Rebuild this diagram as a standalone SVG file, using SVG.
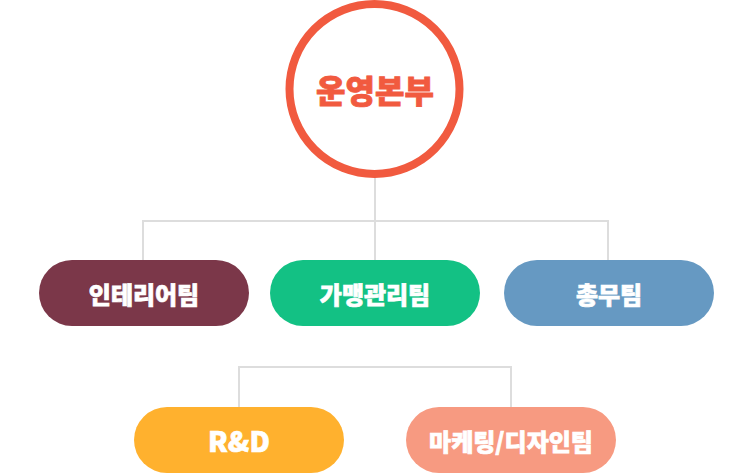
<svg xmlns="http://www.w3.org/2000/svg" width="750" height="473" viewBox="0 0 750 473">
<style>
.conn{fill:none;stroke:#dddddd;stroke-width:2}
.lbl{font-family:"Noto Sans CJK KR","Noto Sans",sans-serif;font-weight:900;font-size:24px;fill:#ffffff;stroke:#ffffff;stroke-width:0.7;text-anchor:middle;dominant-baseline:central}
.root{font-family:"Noto Sans CJK KR","Noto Sans",sans-serif;font-weight:900;font-size:32px;fill:#f15a3f;stroke:#f15a3f;stroke-width:0.8;text-anchor:middle;dominant-baseline:central}
</style>
<rect width="750" height="473" fill="#ffffff"/>
<g id="connectors">
<path class="conn" d="M375 177V260M143 260V221H608V260"/>
<path class="conn" d="M239 407V367H511V407"/>
</g>
<g id="root">
<circle cx="374.5" cy="89" r="85" fill="#ffffff" stroke="#f15a3f" stroke-width="8"/>
<text class="root" x="375" y="89">운영본부</text>
</g>
<g id="interior">
<rect x="39" y="260" width="210" height="66" rx="33" fill="#7b3749"/>
<text class="lbl" x="144" y="293">인테리어팀</text>
</g>
<g id="franchise">
<rect x="270" y="260" width="210" height="66" rx="33" fill="#13c184"/>
<text class="lbl" x="375" y="293">가맹관리팀</text>
</g>
<g id="general">
<rect x="504" y="260" width="210" height="66" rx="33" fill="#6699c2"/>
<text class="lbl" x="609" y="293">총무팀</text>
</g>
<g id="rnd">
<rect x="134" y="407" width="210" height="66" rx="33" fill="#ffb12e"/>
<text class="lbl" x="239" y="440" style="font-size:28px">R&amp;D</text>
</g>
<g id="marketing">
<rect x="406" y="407" width="210" height="66" rx="33" fill="#f79a81"/>
<text class="lbl" x="511" y="440">마케팅/디자인팀</text>
</g>
</svg>
